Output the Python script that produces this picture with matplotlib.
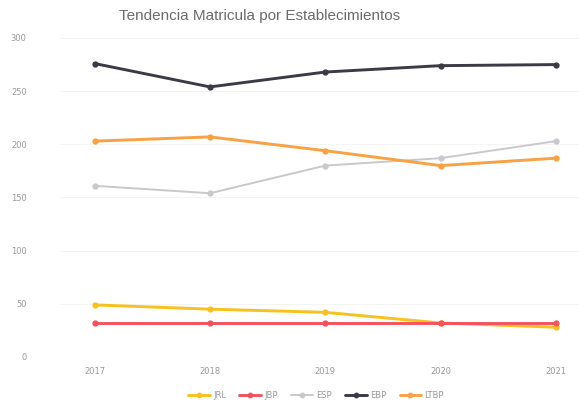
import matplotlib
matplotlib.use('Agg')
import matplotlib.pyplot as plt

# ── Datos ────────────────────────────────────────────────────────────────────
years = ['2017', '2018', '2019', '2020', '2021']
series_names = ['JRL', 'JBP', 'ESP', 'EBP', 'LTBP']
jrl  = [49, 45, 42, 32, 28]
jbp  = [32, 32, 32, 32, 32]
esp  = [161, 154, 180, 187, 203]
ebp  = [276, 254, 268, 274, 275]
ltbp = [203, 207, 194, 180, 187]
yticks = [0, 50, 100, 150, 200, 250, 300]

C = dict(jrl='#F7C21E', jbp='#F5525F', esp='#C9C9CD', ebp='#3B3B48',
         ltbp='#F8A145', text='#999999', title='#6B6B6B', grid='#F3F3F3')

fig = plt.figure(figsize=(5.84, 4.09), dpi=100)
fig.patch.set_facecolor('white')
ax = fig.add_axes([60 / 584, 52 / 409, 519 / 584, 319 / 409])

x = list(range(len(years)))
styles = [
    (jrl,  series_names[0], C['jrl'],  2.1),
    (jbp,  series_names[1], C['jbp'],  2.1),
    (esp,  series_names[2], C['esp'],  1.4),
    (ebp,  series_names[3], C['ebp'],  2.1),
    (ltbp, series_names[4], C['ltbp'], 2.1),
]
for data, name, color, lw in styles:
    ax.plot(x, data, color=color, linewidth=lw, marker='o', markersize=3.5,
            label=name, solid_capstyle='round')

ax.set_xlim(-0.3, 4.2)
ax.set_ylim(0, 300)
ax.set_xticks(x)
ax.set_xticklabels(years)
ax.set_yticks(yticks)
ax.tick_params(axis='both', length=0, labelsize=6, colors=C['text'])
ax.tick_params(axis='y', pad=24)
ax.tick_params(axis='x', pad=7)
for sp in ax.spines.values():
    sp.set_visible(False)
ax.grid(axis='y', color=C['grid'], linewidth=0.6)
ax.set_axisbelow(True)

fig.text(260 / 584, 1 - 16 / 409, 'Tendencia Matricula por Establecimientos',
         ha='center', va='center', fontsize=11, color=C['title'],
         family='Liberation Sans')

fig.legend(loc='center', bbox_to_anchor=(316 / 584, 1 - 395 / 409), ncol=5,
           frameon=False, fontsize=6, labelcolor=C['text'], handlelength=2.6,
           columnspacing=1.6, handletextpad=0.4, markerscale=0.9)

fig.savefig('out.png', dpi=100, facecolor='white')
